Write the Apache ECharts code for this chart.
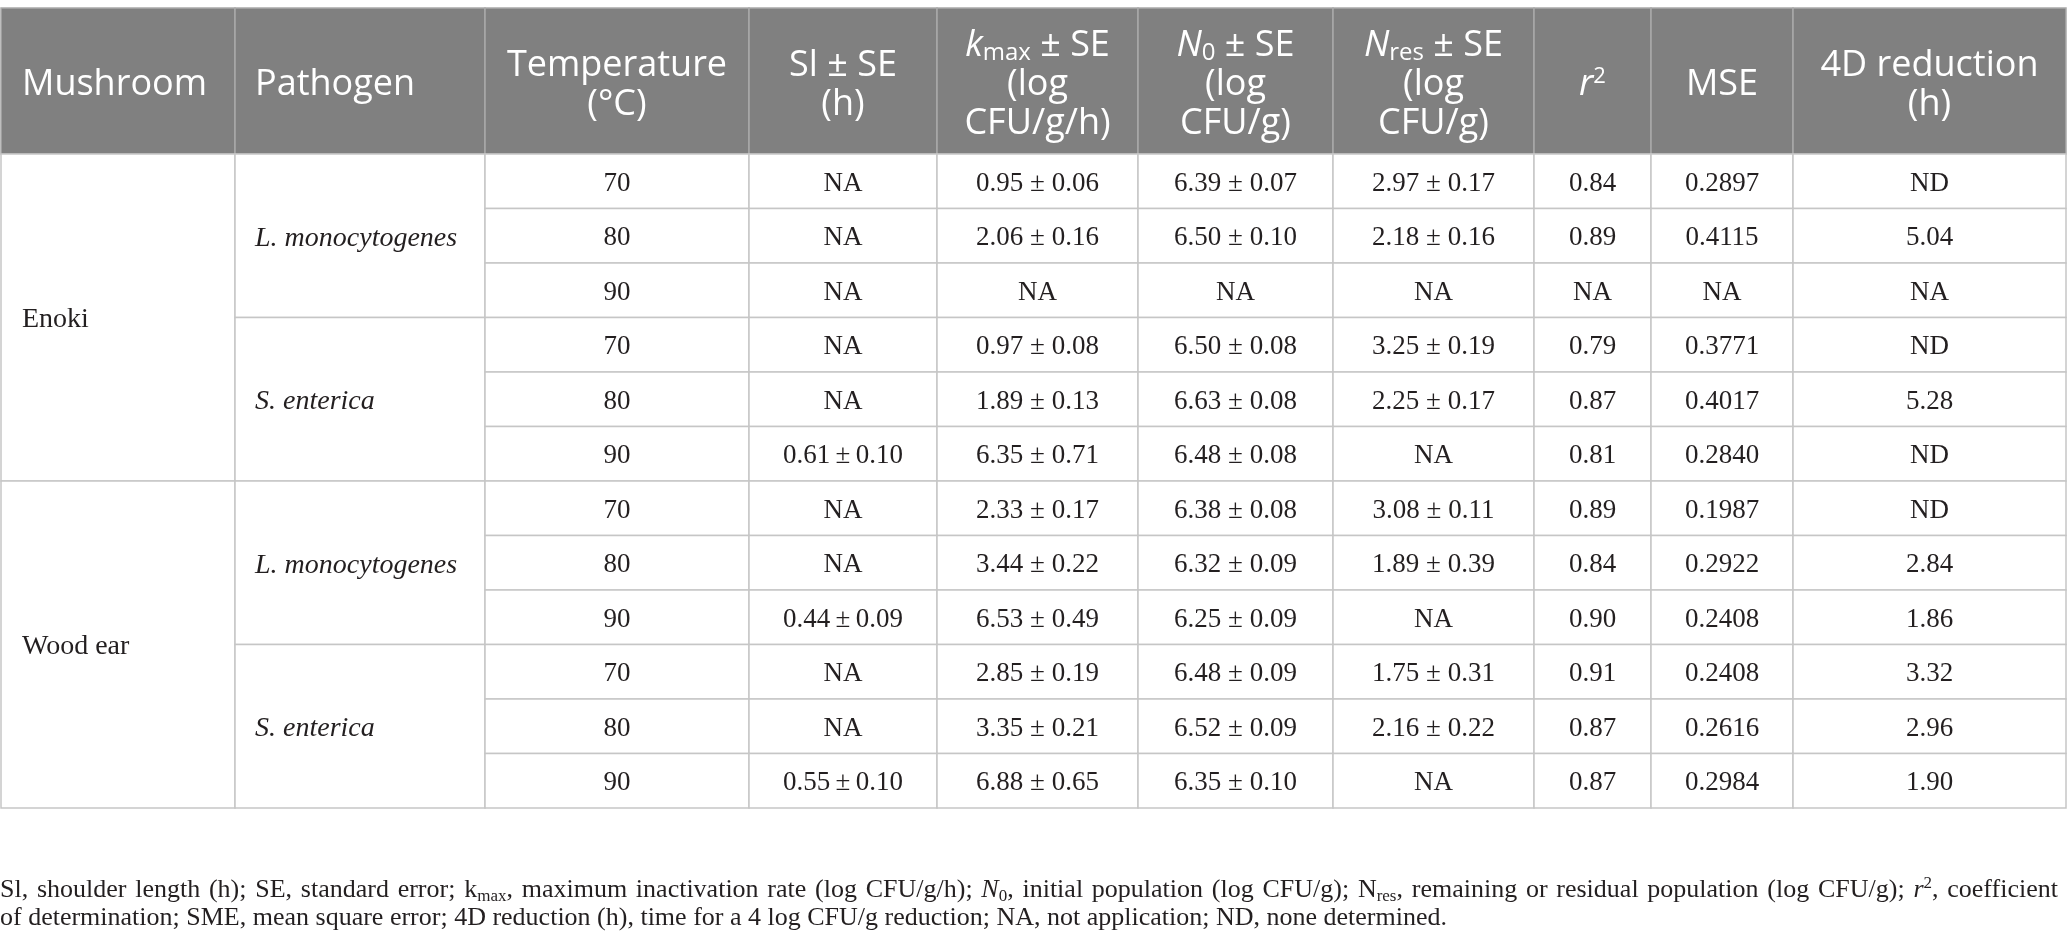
<!DOCTYPE html>
<html>
<head>
<meta charset="utf-8">
<script src="https://cdn.jsdelivr.net/npm/echarts@6/dist/echarts.min.js"></script>
<style>
  html, body { margin: 0; padding: 0; background: #ffffff; }
  #chart { width: 2067px; height: 952px; }
</style>
</head>
<body>
<div id="chart"></div>
<script>
// ---------------- DATA ----------------
const mushrooms = ['Enoki', 'Wood ear'];
const pathogens = ['L. monocytogenes', 'S. enterica'];
const temperatures = [70, 80, 90, 70, 80, 90, 70, 80, 90, 70, 80, 90];
const sl      = [null, null, null, null, null, 0.61, null, null, 0.44, null, null, 0.55];
const slSE    = [null, null, null, null, null, 0.10, null, null, 0.09, null, null, 0.10];
const kmax    = [0.95, 2.06, null, 0.97, 1.89, 6.35, 2.33, 3.44, 6.53, 2.85, 3.35, 6.88];
const kmaxSE  = [0.06, 0.16, null, 0.08, 0.13, 0.71, 0.17, 0.22, 0.49, 0.19, 0.21, 0.65];
const n0      = [6.39, 6.50, null, 6.50, 6.63, 6.48, 6.38, 6.32, 6.25, 6.48, 6.52, 6.35];
const n0SE    = [0.07, 0.10, null, 0.08, 0.08, 0.08, 0.08, 0.09, 0.09, 0.09, 0.09, 0.10];
const nres    = [2.97, 2.18, null, 3.25, 2.25, null, 3.08, 1.89, null, 1.75, 2.16, null];
const nresSE  = [0.17, 0.16, null, 0.19, 0.17, null, 0.11, 0.39, null, 0.31, 0.22, null];
const r2      = [0.84, 0.89, null, 0.79, 0.87, 0.81, 0.89, 0.84, 0.90, 0.91, 0.87, 0.87];
const mse     = [0.2897, 0.4115, null, 0.3771, 0.4017, 0.2840, 0.1987, 0.2922, 0.2408, 0.2408, 0.2616, 0.2984];
const reduction4D = ['ND', 5.04, 'NA', 'ND', 5.28, 'ND', 'ND', 2.84, 1.86, 3.32, 2.96, 1.90];

const headers = [
  'Mushroom',
  'Pathogen',
  'Temperature\n(°C)',
  'Sl ± SE\n(h)',
  '{i|k}{sub|max} ± SE\n(log\nCFU/g/h)',
  '{i|N}{sub|0} ± SE\n(log\nCFU/g)',
  '{i|N}{sub|res} ± SE\n(log\nCFU/g)',
  '{i|r}{sup|2}',
  'MSE',
  '4D reduction\n(h)'
];

const footnoteLine1 =
  'Sl, shoulder length (h); SE, standard error; k{sub|max}, maximum inactivation rate (log CFU/g/h); {i|N}{sub|0}, initial population (log CFU/g); N{sub|res}, remaining or residual population (log CFU/g); {i|r}{sup|2}, coefficient';
const footnoteLine2 =
  'of determination; SME, mean square error; 4D reduction (h), time for a 4 log CFU/g reduction; NA, not application; ND, none determined.';

// ---------------- LAYOUT ----------------
const colWidths = [234, 250, 264, 188, 201, 195, 201, 117, 142, 273];
const colStart = [];
colWidths.reduce((acc, w, i) => { colStart[i] = acc; return acc + w; }, 0);
const totalWidth = colWidths.reduce((a, b) => a + b, 0);
const HEADER_UNITS = 146 / 54.5;
const NROWS = temperatures.length;

const SANS = '"Open Sans", "Noto Sans", sans-serif';
const SERIF = '"Liberation Serif", "DejaVu Serif", serif';
const TEXT_DARK = '#231f20';

function pm(v, e, sep) {
  if (v == null) return 'NA';
  return v.toFixed(2) + sep + '±' + sep + e.toFixed(2);
}
function fmt(v, d) {
  if (v == null) return 'NA';
  if (typeof v === 'string') return v;
  return v.toFixed(d);
}

// Build cell list
const cells = [];
headers.forEach((h, c) => {
  cells.push({ kind: 'header', col: c, row0: 0, span: HEADER_UNITS, text: h, align: c < 2 ? 'left' : 'center' });
});
mushrooms.forEach((m, mi) => {
  cells.push({ kind: 'mush', col: 0, row0: HEADER_UNITS + mi * 6, span: 6, text: m, align: 'left' });
  pathogens.forEach((p, pi) => {
    cells.push({ kind: 'path', col: 1, row0: HEADER_UNITS + mi * 6 + pi * 3, span: 3, text: p, align: 'left' });
  });
});
for (let r = 0; r < NROWS; r++) {
  const vals = [
    String(temperatures[r]),
    pm(sl[r], slSE[r], '\u2009'),
    pm(kmax[r], kmaxSE[r], ' '),
    pm(n0[r], n0SE[r], ' '),
    pm(nres[r], nresSE[r], ' '),
    fmt(r2[r], 2),
    fmt(mse[r], 4),
    fmt(reduction4D[r], 2)
  ];
  vals.forEach((t, k) => {
    cells.push({ kind: 'body', col: k + 2, row0: HEADER_UNITS + r, span: 1, text: t, align: 'center' });
  });
}

const headerRich = {
  i:   { fontFamily: SANS, fontSize: 36, fontStyle: 'italic', fill: '#ffffff', lineHeight: 39 },
  sub: { fontFamily: SANS, fontSize: 24, fill: '#ffffff', lineHeight: 21, verticalAlign: 'bottom' },
  sup: { fontFamily: SANS, fontSize: 22, fill: '#ffffff', lineHeight: 22, verticalAlign: 'top' }
};

function renderItem(params, api) {
  const c = cells[params.dataIndex];
  const p0 = api.coord([colStart[c.col], c.row0]);
  const p1 = api.coord([colStart[c.col] + colWidths[c.col], c.row0 + c.span]);
  const x0 = p0[0], y0 = p0[1], x1 = p1[0], y1 = p1[1];
  const isHeader = c.kind === 'header';
  const rect = {
    type: 'rect',
    shape: { x: x0, y: y0, width: x1 - x0, height: y1 - y0 },
    style: {
      fill: isHeader ? '#808080' : '#ffffff',
      stroke: isHeader ? '#a9a9a9' : '#c6c6c6',
      lineWidth: 1.5
    }
  };
  let style;
  if (isHeader) {
    style = {
      text: c.text,
      fontFamily: SANS, fontSize: 36, fill: '#ffffff',
      font: '36px ' + SANS,
      lineHeight: 39,
      rich: headerRich
    };
  } else {
    const italic = c.kind === 'path';
    const size = (c.kind === 'mush' || c.kind === 'path') ? 28 : 27;
    style = {
      text: c.text,
      fontFamily: SERIF, fontSize: size, fontStyle: italic ? 'italic' : 'normal',
      font: (italic ? 'italic ' : '') + size + 'px ' + SERIF,
      fill: TEXT_DARK
    };
  }
  const pad = c.col === 0 ? 21 : 20;
  style.x = c.align === 'left' ? x0 + pad : (x0 + x1) / 2;
  style.y = (y0 + y1) / 2 + (isHeader ? 4 : 2.5);
  style.align = c.align; style.textAlign = c.align;
  style.verticalAlign = 'middle'; style.textVerticalAlign = 'middle';
  return {
    type: 'group',
    children: [rect, { type: 'text', style: style }]
  };
}

const footRich = {
  i:   { fontFamily: SERIF, fontSize: 26, fontStyle: 'italic', fill: TEXT_DARK, lineHeight: 30 },
  sp:  { fontFamily: SERIF, fontSize: 35, fill: TEXT_DARK, lineHeight: 30 },
  sub: { fontFamily: SERIF, fontSize: 17, fill: TEXT_DARK, lineHeight: 24, verticalAlign: 'bottom' },
  sup: { fontFamily: SERIF, fontSize: 17, fill: TEXT_DARK, lineHeight: 24, verticalAlign: 'top' }
};
function justifySpaces(s) {
  // widen inter-word spaces (the source line is justified)
  return s.replace(/ (?![^{]*\})/g, '{sp| }');
}

const chart = echarts.init(document.getElementById('chart'), null, { renderer: 'canvas' });
chart.setOption({
  backgroundColor: '#ffffff',
  animation: false,
  grid: { left: 1, right: 1, top: 8, bottom: 144, containLabel: false },
  xAxis: { type: 'value', min: 0, max: totalWidth, show: false },
  yAxis: { type: 'value', min: 0, max: HEADER_UNITS + NROWS, inverse: true, show: false },
  series: [{
    type: 'custom',
    coordinateSystem: 'cartesian2d',
    renderItem: renderItem,
    clip: false,
    data: cells.map((c, i) => [colStart[c.col], c.row0, c.span, i])
  }],
  graphic: [{
    type: 'text',
    left: 0,
    top: 873,
    style: {
      text: justifySpaces(footnoteLine1),
      fontFamily: SERIF, fontSize: 26, fill: TEXT_DARK,
      font: '26px ' + SERIF,
      lineHeight: 30,
      rich: footRich
    }
  }, {
    type: 'text',
    left: 0,
    top: 903,
    style: {
      text: footnoteLine2,
      fontFamily: SERIF, fontSize: 26, fill: TEXT_DARK,
      font: '26px ' + SERIF,
      lineHeight: 30,
      rich: footRich
    }
  }]
});
</script>
</body>
</html>
